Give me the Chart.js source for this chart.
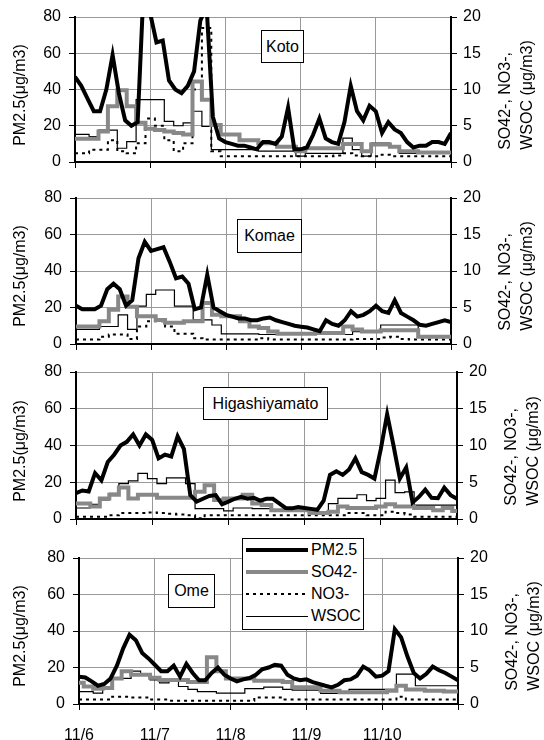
<!DOCTYPE html>
<html>
<head>
<meta charset="utf-8">
<script src="https://cdn.jsdelivr.net/npm/chart.js@4.4.0/dist/chart.umd.min.js"></script>
<style>
  body { margin: 0; background: #fff; font-family: "Liberation Sans", Arial, sans-serif; color: #000; }
  #wrap { position: relative; width: 544px; height: 740px; overflow: hidden; background: #fff; }
  #wrap canvas { position: absolute; left: 0; }
  .site { position: absolute; box-sizing: border-box; background: #fff; border: 1px solid #000;
          font-size: 16px; display: flex; align-items: center; justify-content: center; z-index: 2; }
  .ytitle { position: absolute; white-space: nowrap; font-size: 16px; line-height: 22px;
            transform: translate(-50%, -50%) rotate(-90deg); z-index: 2; }
  #legend { position: absolute; left: 242px; top: 538px; width: 122px; height: 92px; box-sizing: border-box;
            border: 1px solid #000; background: #fff; z-index: 3; font-size: 16px; }
  #legend .row { height: 22px; display: flex; align-items: center; }
  #legend .smp { width: 62px; margin: 0 3px 0 3px; }
</style>
</head>
<body>
<div id="wrap">
  <div id="legend">
    <div class="row"><span class="smp" style="height:4px;background:#000"></span>PM2.5</div>
    <div class="row"><span class="smp" style="height:4px;background:#888"></span>SO42-</div>
    <div class="row"><span class="smp" style="height:2px;background:repeating-linear-gradient(90deg,#000 0 3px,transparent 3px 7px)"></span>NO3-</div>
    <div class="row"><span class="smp" style="height:1px;background:#000"></span>WSOC</div>
  </div>
</div>
<script>
// x axis: hours from 11/6 0:00, one label per day
const days = ['11/6', '11/7', '11/8', '11/9', '11/10'];
const pmStep = 2;   // PM2.5 read every 2 h
const ionStep = 3;  // ions / WSOC read every 3 h

// ---- Koto ----
const kotoPM = [47,42,35,28,28,40,59,38,23,20,22,100,82,66,67,45,40,38,42,50,78,86,25,13,11,10,9,9,8,7,
  11,11,10,14,30,7,7,8,15,24,13,11,10,22,42,28,23,31,28,16,22,18,16,11,8,9,9,11,11,10,16];
const kotoSO4 = [3.2,3.2,3.2,4.2,7.7,9.9,7.7,5.4,4.6,4.4,4.2,4.0,3.8,11.1,8.6,5.1,3.8,3.8,3.0,3.0,
  2.6,2.6,2.1,2.1,1.5,1.9,1.9,1.9,1.9,2.5,2.5,1.5,2.4,2.4,2.1,1.5,1.5,1.3,1.3,1.3,1.3];
const kotoNO3 = [1.2,1.2,1.7,1.7,3.0,1.5,1.2,2.6,6.0,5.0,3.0,1.5,2.6,10,18.5,1.5,
  0.8,0.8,0.8,0.8,0.8,0.8,0.8,0.8,0.8,0.8,0.8,0.8,0.9,1.2,0.9,0.8,0.8,1.0,0.8,0.8,0.8,0.8,0.8,0.8,0.8];
const kotoWSOC = [3.8,3.8,3.5,4.4,4.4,1.9,2.8,8.6,8.6,8.6,5.6,5.0,5.4,7.0,4.9,1.7,1.7,1.7,1.7,1.7,
  1.5,1.5,1.5,1.5,0.8,1.2,1.2,1.2,1.2,3.3,1.7,0.8,2.6,2.6,2.1,1.2,1.2,1.2,1.2,1.2,1.2];

// ---- Komae ----
const komaePM = [21,19,19,19,21,30,33,30,21,24,47,56,51,52,53,45,36,37,33,19,20,38,20,18,16,15,14,14,13,13,
  14,14.5,13,12,11,10,9.5,9,8,7,13,11,10,13,18,15,16,18,21,18,17,24,17,15,13,10.5,10,11,12,13,12];
const komaeSO4 = [2.4,2.4,2.4,3.1,4.7,6.5,5.1,3.8,3.8,3.3,2.9,2.9,3.1,3.1,5.6,4.0,3.8,3.8,3.1,2.4,
  2.2,1.7,1.4,1.4,1.4,1.4,1.5,1.5,1.5,2.4,2.0,1.7,1.7,1.9,1.9,1.9,1.9,1.0,1.0,1.0,1.0];
const komaeNO3 = [0.6,0.6,0.6,1.0,1.3,1.3,0.7,2.4,3.1,3.1,2.4,1.4,1.4,0.8,0.6,0.6,0.6,0.6,0.6,0.6,
  0.8,0.6,0.6,0.6,0.6,0.6,0.6,0.6,0.6,0.6,0.7,0.7,0.7,0.9,1.0,0.7,0.6,0.6,0.6,0.6,0.6];
const komaeWSOC = [2.0,2.0,2.0,2.4,2.4,4.0,2.0,5.2,6.8,7.4,7.4,5.2,5.2,3.3,3.3,2.6,1.4,1.4,1.4,1.4,
  1.3,1.3,1.3,1.3,1.3,1.3,1.3,1.3,1.3,1.3,1.7,1.7,1.7,2.6,2.6,2.6,2.6,1.0,1.0,1.0,1.0];

// ---- Higashiyamato ----
const higaPM = [14,15.5,15,25,21,31,35,40,42,46,40,46,43,33,35,34,45,38,13,9.5,11,12.5,13,8,9.5,11,12,11,11.5,10,
  11,11,8.5,6,5.8,6.5,6,5.5,5,10,24,26,24,27,33,25.5,24,22,38,57,40,22,28,9,12,16,11.5,11.3,17,13,11];
const higaSO4 = [2.1,2.1,1.7,2.8,3.3,4.3,2.8,3.3,3.3,2.9,2.9,2.9,2.9,3.7,4.6,2.6,2.8,2.8,3.3,2.1,
  1.9,1.2,1.2,1.2,1.2,0.8,0.8,1.0,1.7,1.5,1.5,1.5,1.7,2.0,1.7,1.7,1.5,1.5,1.2,1.5,1.1];
const higaNO3 = [0.3,0.3,0.3,0.3,0.5,0.8,0.8,0.8,0.9,0.8,0.7,0.6,0.5,0.1,0.5,0.5,0.5,0.5,0.5,0.5,
  0.5,0.5,0.5,0.5,0.5,0.5,0.5,0.5,0.5,0.8,0.8,0.5,0.5,1.0,0.8,0.6,0.3,0.3,0.3,0.3,0.3];
const higaWSOC = [1.5,1.5,2.0,2.6,3.5,4.8,5.2,6.2,5.5,4.8,5.6,5.6,4.8,1.4,1.4,1.4,1.1,1.5,1.5,1.4,
  1.4,1.2,1.2,1.2,1.2,1.0,1.0,2.1,2.8,2.8,3.3,2.5,2.8,5.3,3.6,3.7,1.9,1.9,1.9,1.9,1.9];

// ---- Ome ----
const omePM = [15,14.5,12.4,10,11,14,21,30.5,38,35,28,25,21.5,18,18,21,15,22,17,13,13,17,20,16,14,12.4,13.5,14.2,16,19,
  20,21.5,21,16,14,13,13.5,12,11,10,9.1,10.5,13,13.5,15.5,20.5,18.5,15,15.5,18,41,36.5,26,17,14,16.5,20.5,18.5,17,15,13];
const omeSO4 = [2.9,2.4,2.1,2.2,3.5,4.5,4.0,4.0,3.6,3.3,3.3,3.3,3.0,3.0,6.4,4.5,3.5,3.5,3.5,3.2,
  3.2,3.2,3.0,2.3,2.3,2.3,1.8,1.8,1.6,1.6,1.6,1.6,1.6,1.8,2.5,2.0,2.0,1.8,1.8,1.7,1.7];
const omeNO3 = [0.6,0.6,0.6,0.6,1.0,1.0,0.9,0.9,0.6,0.6,0.45,0.45,0.45,0.45,0.45,0.45,0.45,0.45,0.45,0.9,
  0.9,0.9,0.6,0.6,0.6,0.6,0.6,0.6,0.6,0.6,0.6,0.6,0.6,0.6,1.0,0.6,0.6,0.6,0.6,0.6,0.6];
const omeWSOC = [1.7,1.7,1.5,2.2,3.5,3.5,4.5,4.0,3.3,2.9,3.1,2.4,2.0,1.7,1.7,1.5,1.5,1.5,2.1,2.1,
  2.3,2.3,2.0,1.9,1.9,1.9,1.45,1.45,1.6,2.0,2.0,2.0,2.0,2.0,4.1,4.1,2.5,2.5,2.5,2.5,2.5];

// panel layout (pixels on the page)
const panels = [
  { name: 'Koto', pm: kotoPM, so4: kotoSO4, no3: kotoNO3, wsoc: kotoWSOC,
    area: { left: 75, right: 451, top: 17, bottom: 162 }, box: [261, 30, 43, 33] },
  { name: 'Komae', pm: komaePM, so4: komaeSO4, no3: komaeNO3, wsoc: komaeWSOC,
    area: { left: 76, right: 451, top: 198, bottom: 344 }, box: [237, 219, 65, 34] },
  { name: 'Higashiyamato', pm: higaPM, so4: higaSO4, no3: higaNO3, wsoc: higaWSOC,
    area: { left: 76, right: 457, top: 372, bottom: 519 }, box: [203, 387, 125, 33] },
  { name: 'Ome', pm: omePM, so4: omeSO4, no3: omeNO3, wsoc: omeWSOC,
    area: { left: 79, right: 458, top: 558, bottom: 704 }, box: [168, 574, 47, 34] }
];

Chart.defaults.font.family = '"Liberation Sans", Arial, sans-serif';
Chart.defaults.font.size = 16;
Chart.defaults.color = '#000';

const wrap = document.getElementById('wrap');
const toXY = (arr, step) => arr.map((v, k) => ({ x: k * step, y: v }));

panels.forEach(function (p, i) {
  const a = p.area;
  const last = i === panels.length - 1;
  // room above/below the plot must exceed the y tick label overflow (~18px)
  const padTop = 20;
  const bottomSpace = last ? 36 : 20;
  const top = a.top - padTop;
  const cv = document.createElement('canvas');
  cv.width = 544;
  cv.height = a.bottom - top + bottomSpace;
  cv.style.top = top + 'px';
  wrap.appendChild(cv);

  // station name box
  const b = document.createElement('div');
  b.className = 'site';
  b.textContent = p.name;
  b.style.left = p.box[0] + 'px'; b.style.top = p.box[1] + 'px';
  b.style.width = p.box[2] + 'px'; b.style.height = p.box[3] + 'px';
  wrap.appendChild(b);

  // axis titles
  const mid = (a.top + a.bottom) / 2 + 5;
  const lt = document.createElement('div');
  lt.className = 'ytitle';
  lt.textContent = 'PM2.5(μg/m3)';
  lt.style.left = '20px'; lt.style.top = mid + 'px';
  wrap.appendChild(lt);
  const rt = document.createElement('div');
  rt.className = 'ytitle';
  rt.style.textAlign = 'left';
  rt.innerHTML = 'SO42-, NO3-,<br>WSOC (μg/m3)';
  rt.style.left = (a.right + 65) + 'px'; rt.style.top = mid + 'px';
  wrap.appendChild(rt);

  new Chart(cv, {
    type: 'line',
    data: {
      datasets: [
        { label: 'PM2.5', data: toXY(p.pm, pmStep), yAxisID: 'y', borderColor: '#000', borderWidth: 4 },
        { label: 'SO42-', data: toXY(p.so4, ionStep), yAxisID: 'y1', borderColor: '#888', borderWidth: 4, stepped: 'middle' },
        { label: 'NO3-', data: toXY(p.no3, ionStep), yAxisID: 'y1', borderColor: '#000', borderWidth: 2, borderDash: [3, 4], stepped: 'middle' },
        { label: 'WSOC', data: toXY(p.wsoc, ionStep), yAxisID: 'y1', borderColor: '#000', borderWidth: 1.2, stepped: 'middle' }
      ]
    },
    options: {
      responsive: false,
      animation: false,
      layout: { padding: { top: padTop, left: 0, right: 0, bottom: 0 } },
      plugins: { legend: { display: false }, tooltip: { enabled: false } },
      elements: { point: { radius: 0 }, line: { tension: 0, fill: false } },
      scales: {
        x: {
          type: 'linear', min: 0, max: 120,
          ticks: {
            stepSize: 24, padding: 16, maxRotation: 0, autoSkip: false,
            callback: function (v) { return last ? (days[v / 24] || '') : ''; }
          },
          grid: { color: '#999', tickColor: '#000', tickLength: 6 },
          border: { color: '#000', width: 2 },
          afterFit: function (s) { s.height = bottomSpace; }
        },
        y: {
          position: 'left', min: 0, max: 80,
          ticks: { stepSize: 20, padding: 8 },
          grid: { color: '#999', tickColor: '#000', tickLength: 6 },
          border: { color: '#000', width: 2 },
          afterFit: function (s) { s.width = a.left; }
        },
        y1: {
          position: 'right', min: 0, max: 20,
          ticks: { stepSize: 5, padding: 6 },
          grid: { drawOnChartArea: false, tickColor: '#000', tickLength: 6 },
          border: { color: '#000', width: 2 },
          afterFit: function (s) { s.width = 544 - a.right; }
        }
      }
    }
  });
});
</script>
</body>
</html>
